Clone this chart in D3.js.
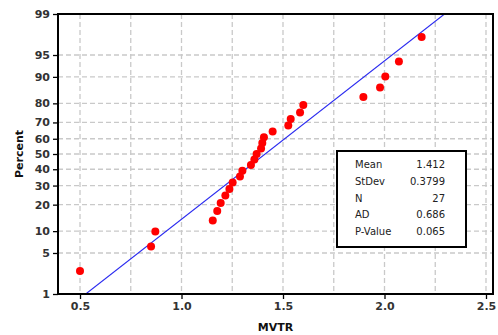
<!DOCTYPE html>
<html>
<head>
<meta charset="utf-8">
<script src="https://cdn.jsdelivr.net/npm/d3@7"></script>
<style>
  html, body { margin: 0; padding: 0; background: #fff; }
  svg { display: block; }
</style>
</head>
<body>
<svg id="chart" width="498" height="335"></svg>
<script>
// ---- data ----
const mvtrValues = [0.500, 0.850, 0.871, 1.154, 1.176, 1.193, 1.216, 1.236, 1.252,
  1.288, 1.300, 1.342, 1.359, 1.370, 1.392, 1.398, 1.406, 1.449, 1.526, 1.538,
  1.584, 1.600, 1.896, 1.978, 2.004, 2.071, 2.183];
const percentValues = [2.6, 6.2, 9.9, 13.5, 17.2, 20.8, 24.5, 28.1, 31.8, 35.4,
  39.1, 42.7, 46.4, 50.0, 53.6, 57.3, 60.9, 64.6, 68.2, 71.9, 75.5, 79.2, 82.8,
  86.5, 90.1, 93.8, 97.4];
const yTickLabels = [1, 5, 10, 20, 30, 40, 50, 60, 70, 80, 90, 95, 99];
const xTickLabels = [0.5, 1.0, 1.5, 2.0, 2.5];
const xGridValues = [0.5, 0.75, 1.0, 1.25, 1.5, 1.75, 2.0, 2.25, 2.5];
const statLabels = ["Mean", "StDev", "N", "AD", "P-Value"];
const statValues = ["1.412", "0.3799", "27", "0.686", "0.065"];
const fitMean = 1.412, fitStDev = 0.3799;
const fitPercentEnds = [1, 99];

// inverse standard normal CDF (Acklam) — the probability axis transform
function probit(p) {
  const a = [-3.969683028665376e+01, 2.209460984245205e+02, -2.759285104469687e+02, 1.383577518672690e+02, -3.066479806614716e+01, 2.506628277459239e+00];
  const b = [-5.447609879822406e+01, 1.615858368580409e+02, -1.556989798598866e+02, 6.680131188771972e+01, -1.328068155288572e+01];
  const c = [-7.784894002430293e-03, -3.223964580411365e-01, -2.400758277161838e+00, -2.549671583346497e+00, 4.374664141464968e+00, 2.938163982698783e+00];
  const d = [7.784695709041462e-03, 3.224671290700398e-01, 2.445134137142996e+00, 3.754408661907416e+00];
  const pl = 0.02425, ph = 1 - pl;
  let q, r;
  if (p < pl) { q = Math.sqrt(-2 * Math.log(p)); return (((((c[0]*q+c[1])*q+c[2])*q+c[3])*q+c[4])*q+c[5]) / ((((d[0]*q+d[1])*q+d[2])*q+d[3])*q+1); }
  if (p <= ph) { q = p - 0.5; r = q*q; return (((((a[0]*r+a[1])*r+a[2])*r+a[3])*r+a[4])*r+a[5])*q / (((((b[0]*r+b[1])*r+b[2])*r+b[3])*r+b[4])*r+1); }
  q = Math.sqrt(-2 * Math.log(1 - p)); return -(((((c[0]*q+c[1])*q+c[2])*q+c[3])*q+c[4])*q+c[5]) / ((((d[0]*q+d[1])*q+d[2])*q+d[3])*q+1);
}

const svg = d3.select("#chart");
const L = 58, R = 493, T = 14, B = 294;

const x = d3.scaleLinear().domain([0.3916, 2.5345]).range([L, R]);
const zScale = d3.scaleLinear().domain([probit(0.01), probit(0.99)]).range([B, T]);
const y = pct => zScale(probit(pct / 100));

const font = "'DejaVu Sans', Verdana, sans-serif";
const gridColor = "#c9c9c9";

// grid
const grid = svg.append("g");
grid.selectAll("line.gx").data(xGridValues).enter().append("line")
  .attr("x1", d => x(d)).attr("x2", d => x(d)).attr("y1", T).attr("y2", B)
  .attr("stroke", gridColor).attr("stroke-width", 1.3).attr("stroke-dasharray", "5,3");
grid.selectAll("line.gy").data(yTickLabels.filter(v => v > 1 && v < 99)).enter().append("line")
  .attr("x1", L).attr("x2", R).attr("y1", d => y(d)).attr("y2", d => y(d))
  .attr("stroke", gridColor).attr("stroke-width", 1.3).attr("stroke-dasharray", "5,3");

// fitted line
const clip = svg.append("clipPath").attr("id", "pclip").append("rect")
  .attr("x", L).attr("y", T).attr("width", R - L).attr("height", B - T);
const linePts = fitPercentEnds.map(p => [fitMean + fitStDev * probit(p / 100), p]);
svg.append("path")
  .attr("clip-path", "url(#pclip)")
  .attr("d", d3.line().x(d => x(d[0])).y(d => y(d[1]))(linePts))
  .attr("fill", "none").attr("stroke", "#2b2bf0").attr("stroke-width", 1.1);

// points
svg.append("g").selectAll("circle").data(mvtrValues).enter().append("circle")
  .attr("cx", d => x(d)).attr("cy", (d, i) => y(percentValues[i]))
  .attr("r", 4).attr("fill", "#ff0000");

// axes
const yAxis = d3.axisLeft(zScale).tickValues(yTickLabels.map(v => probit(v / 100)))
  .tickFormat((d, i) => yTickLabels[i]).tickSize(5).tickPadding(3);
const gy = svg.append("g").attr("transform", `translate(${L},0)`).call(yAxis);
const xAxis = d3.axisBottom(x).tickValues(xTickLabels).tickFormat(d3.format(".1f")).tickSize(5).tickPadding(3);
const gx = svg.append("g").attr("transform", `translate(0,${B})`).call(xAxis);
[gx, gy].forEach(g => {
  g.select(".domain").remove();
  g.selectAll(".tick line").attr("stroke", "#000").attr("stroke-width", 1.3);
  g.selectAll(".tick text").attr("fill", "#333").style("font-family", font)
    .style("font-size", "11px").style("font-weight", "bold");
});

// frame
svg.append("rect").attr("x", L).attr("y", T).attr("width", R - L).attr("height", B - T)
  .attr("fill", "none").attr("stroke", "#000").attr("stroke-width", 2);

// axis titles
svg.append("text").attr("x", (L + R) / 2).attr("y", 331).attr("text-anchor", "middle")
  .style("font-family", font).style("font-size", "11px").style("font-weight", "bold")
  .attr("fill", "#111").text("MVTR");
svg.append("text").attr("transform", `translate(23,${(T + B) / 2}) rotate(-90)`)
  .attr("text-anchor", "middle")
  .style("font-family", font).style("font-size", "11px").style("font-weight", "bold")
  .attr("fill", "#111").text("Percent");

// stats box
const box = svg.append("g");
box.append("rect").attr("x", 337).attr("y", 151).attr("width", 129).attr("height", 96)
  .attr("fill", "#fff").attr("stroke", "#000").attr("stroke-width", 2);
statLabels.forEach((s, i) => {
  const yy = 168 + i * 16.8;
  box.append("text").attr("x", 355).attr("y", yy).text(s)
    .style("font-family", font).style("font-size", "10px").attr("fill", "#222");
  box.append("text").attr("x", 445).attr("y", yy).attr("text-anchor", "end").text(statValues[i])
    .style("font-family", font).style("font-size", "10px").attr("fill", "#222");
});
</script>
</body>
</html>
